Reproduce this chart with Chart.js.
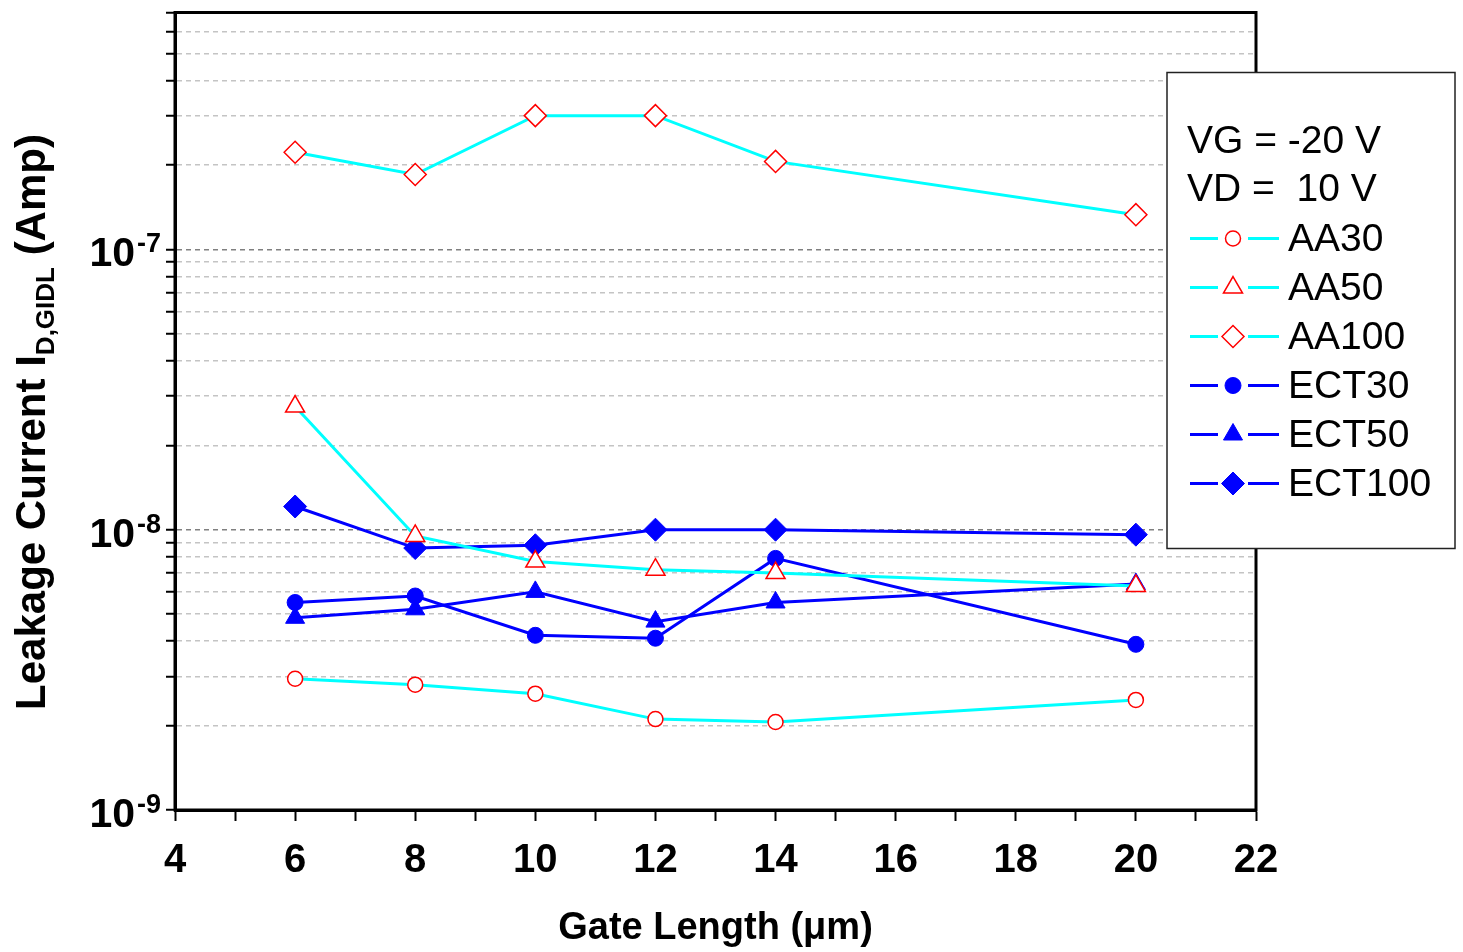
<!DOCTYPE html>
<html>
<head>
<meta charset="utf-8">
<script src="https://cdn.jsdelivr.net/npm/chart.js@4.4.0/dist/chart.umd.min.js"></script>
<style>
  html, body { margin: 0; padding: 0; background: #fff; }
  #wrap { position: relative; width: 1463px; height: 952px; }
</style>
</head>
<body>
<div id="wrap"><canvas id="leakage"></canvas></div>
<script>
// gate length (um) and GIDL leakage current (A) per device
const gateLength = [6, 8, 10, 12, 14, 20];
const aa30   = [2.94e-9, 2.80e-9, 2.60e-9, 2.11e-9, 2.06e-9, 2.47e-9];
const aa50   = [2.75e-8, 9.5e-9, 7.7e-9, 7.2e-9, 7.0e-9, 6.3e-9];
const aa100  = [2.22e-7, 1.85e-7, 3.0e-7, 3.0e-7, 2.06e-7, 1.33e-7];
const ect30  = [5.5e-9, 5.8e-9, 4.2e-9, 4.1e-9, 7.9e-9, 3.9e-9];
const ect50  = [4.85e-9, 5.2e-9, 6.0e-9, 4.7e-9, 5.5e-9, 6.4e-9];
const ect100 = [1.21e-8, 8.6e-9, 8.8e-9, 1.0e-8, 1.0e-8, 9.6e-9];

const seriesNames = ['AA30', 'AA50', 'AA100', 'ECT30', 'ECT50', 'ECT100'];
const biasLines = ['VG = -20 V', 'VD =  10 V'];
const xTickLabels = [4, 6, 8, 10, 12, 14, 16, 18, 20, 22];
const yDecades = [-9, -8, -7];

const FONT = '"Liberation Sans", Arial, sans-serif';
Chart.defaults.font.family = FONT;

function pts(vals) {
  return gateLength.map((x, i) => ({ x: x, y: vals[i] }));
}

function openSeries(name, vals, style, r) {
  return {
    label: name, data: pts(vals),
    borderColor: '#00ffff', borderWidth: 3,
    pointStyle: style, pointRadius: r, pointHoverRadius: r,
    pointBorderColor: '#ff0000', pointBackgroundColor: '#ffffff', pointBorderWidth: 1.5
  };
}
function solidSeries(name, vals, style, r) {
  return {
    label: name, data: pts(vals),
    borderColor: '#0000ff', borderWidth: 3,
    pointStyle: style, pointRadius: r, pointHoverRadius: r,
    pointBorderColor: '#0000ff', pointBackgroundColor: '#0000ff', pointBorderWidth: 1
  };
}

function isDecade(v) {
  const e = Math.log10(v);
  return Math.abs(e - Math.round(e)) < 1e-6;
}

function drawMarker(ctx, ds, x, y) {
  ctx.fillStyle = ds.pointBackgroundColor;
  ctx.strokeStyle = ds.pointBorderColor;
  ctx.lineWidth = ds.pointBorderWidth;
  Chart.helpers.drawPoint(ctx, { pointStyle: ds.pointStyle, radius: ds.pointRadius, rotation: 0, borderWidth: ds.pointBorderWidth }, x, y);
}

// frame, y tick labels with exponents, y title with subscript, legend box
const decorations = {
  id: 'decorations',
  afterDraw(chart) {
    const { ctx, chartArea: a, scales: { y } } = chart;
    ctx.save();

    ctx.strokeStyle = '#000';
    ctx.lineWidth = 3;
    ctx.strokeRect(a.left, a.top, a.right - a.left, a.bottom - a.top);

    ctx.fillStyle = '#000';
    ctx.textBaseline = 'alphabetic';
    ctx.textAlign = 'right';
    yDecades.forEach(e => {
      const py = y.getPixelForValue(Math.pow(10, e));
      const sup = String(e);
      ctx.font = 'bold 27px ' + FONT;
      const supW = ctx.measureText(sup).width;
      const right = 161;
      ctx.fillText(sup, right, py + 3);
      ctx.font = 'bold 41px ' + FONT;
      ctx.fillText('10', right - supW - 2, py + 17);
    });

    const parts = [
      { t: 'Leakage Current I', f: 'bold 42px ' + FONT, dy: 0 },
      { t: 'D,GIDL', f: 'bold 26px ' + FONT, dy: 9 },
      { t: ' (Amp)', f: 'bold 42px ' + FONT, dy: 0 }
    ];
    let total = 0;
    parts.forEach(p => { ctx.font = p.f; p.w = ctx.measureText(p.t).width; total += p.w; });
    ctx.translate(45, 422);
    ctx.rotate(-Math.PI / 2);
    ctx.textAlign = 'left';
    let px = -total / 2;
    parts.forEach(p => { ctx.font = p.f; ctx.fillText(p.t, px, p.dy); px += p.w; });
    ctx.setTransform(1, 0, 0, 1, 0, 0);

    const bx = a.right - 89, by = a.top + 60, bw = 288, bh = 476;
    ctx.fillStyle = '#fff';
    ctx.fillRect(bx, by, bw, bh);
    ctx.strokeStyle = '#222';
    ctx.lineWidth = 1.5;
    ctx.strokeRect(bx, by, bw, bh);

    ctx.fillStyle = '#000';
    ctx.font = '39px ' + FONT;
    ctx.textAlign = 'left';
    ctx.textBaseline = 'middle';
    biasLines.forEach((t, i) => ctx.fillText(t, bx + 20, by + 70 + i * 48));
    chart.data.datasets.forEach((ds, i) => {
      const cy = by + 166 + i * 49;
      const mx = bx + 66;
      ctx.strokeStyle = ds.borderColor;
      ctx.lineWidth = 3;
      ctx.beginPath();
      ctx.moveTo(bx + 23, cy); ctx.lineTo(mx - 15, cy);
      ctx.moveTo(mx + 15, cy); ctx.lineTo(bx + 112, cy);
      ctx.stroke();
      drawMarker(ctx, ds, mx, cy);
      ctx.fillStyle = '#000';
      ctx.font = '39px ' + FONT;
      ctx.fillText(ds.label, bx + 121, cy + 2);
    });
    ctx.restore();
  }
};

new Chart(document.getElementById('leakage').getContext('2d'), {
  type: 'line',
  data: {
    datasets: [
      openSeries(seriesNames[0], aa30, 'circle', 7.5),
      openSeries(seriesNames[1], aa50, 'triangle', 11),
      openSeries(seriesNames[2], aa100, 'rectRot', 11),
      solidSeries(seriesNames[3], ect30, 'circle', 8),
      solidSeries(seriesNames[4], ect50, 'triangle', 11),
      solidSeries(seriesNames[5], ect100, 'rectRot', 11.5)
    ]
  },
  options: {
    responsive: true,
    maintainAspectRatio: false,
    animation: false,
    layout: { padding: { left: 0, top: 12, right: 207, bottom: 0 } },
    plugins: { legend: { display: false }, tooltip: { enabled: false } },
    scales: {
      x: {
        type: 'linear', min: 4, max: 22,
        afterFit(s) { s.height = 142; },
        afterBuildTicks(s) {
          const t = [];
          for (let v = 4; v <= 22; v++) t.push({ value: v });
          s.ticks = t;
        },
        ticks: {
          callback: v => xTickLabels.includes(v) ? String(v) : '',
          font: { size: 40, weight: 'bold' }, color: '#000', padding: 16, maxRotation: 0, autoSkip: false
        },
        grid: { drawOnChartArea: false, tickLength: 11, tickColor: '#000', tickWidth: 2 },
        border: { color: '#000', width: 3 },
        title: {
          display: true, text: 'Gate Length (\u03bcm)', color: '#000',
          font: { size: 38, weight: 'bold' }, padding: { top: 0, bottom: 1 }
        }
      },
      y: {
        type: 'logarithmic', min: 1e-9, max: 7e-7,
        afterFit(s) { s.width = 175; },
        afterBuildTicks(s) {
          const t = [];
          yDecades.forEach(e => {
            for (let m = 1; m <= 9; m++) {
              const v = m * Math.pow(10, e);
              if (v <= s.max * 1.0001) t.push({ value: v, major: m === 1 });
            }
          });
          s.ticks = t;
        },
        ticks: { display: false },
        grid: {
          color: c => (c.tick && isDecade(c.tick.value)) ? '#808080' : '#c4c4c4',
          lineWidth: 1.5, tickLength: 9, tickColor: '#000', tickWidth: 2
        },
        border: { color: '#000', width: 3, dash: [5, 4] }
      }
    }
  },
  plugins: [decorations]
});
</script>
</body>
</html>
